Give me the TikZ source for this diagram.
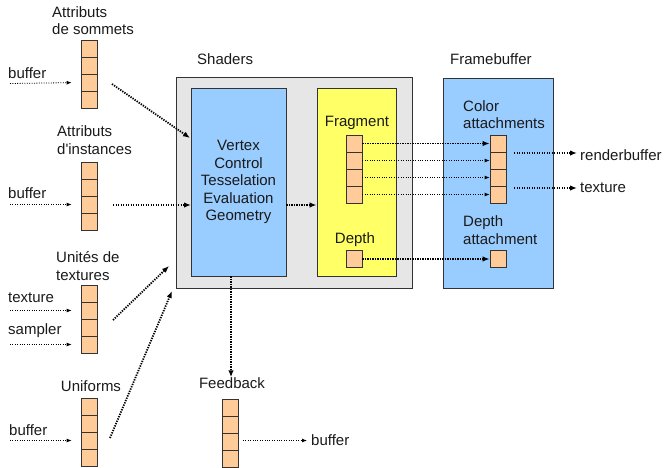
\documentclass[tikz,border=0pt]{standalone}
\usepackage{fontspec}
\setmainfont{Liberation Sans}
\newfontfamily\plainf{Liberation Sans}
\usetikzlibrary{arrows.meta,calc}
\definecolor{peach}{HTML}{FFCC99}
\definecolor{skyb}{HTML}{99CCFF}
\definecolor{yel}{HTML}{FFFF66}
\definecolor{lgray}{HTML}{E6E6E6}
\definecolor{bordc}{HTML}{333333}
\definecolor{textc}{HTML}{1A1A1A}
\tikzset{
  cell/.style={draw=bordc, fill=peach, minimum width=16pt, minimum height=17pt, inner sep=0pt, line width=0.8pt},
  lbl/.style={inner sep=0pt, text=textc, align=left},
  panel/.style={draw=bordc, line width=0.9pt, inner sep=0pt},
  bigarr/.style={line width=1.8pt, dash pattern=on 1.3pt off 1.2pt, -{Latex[length=7pt,width=5.5pt]}},
  thinarr/.style={line width=0.8pt, dash pattern=on 1pt off 1.4pt, -{Latex[length=5pt,width=4pt]}}
}
\begin{document}
\begin{tikzpicture}[x=1pt,y=-1pt, font=\fontsize{15}{17.5}\selectfont]
\useasboundingbox (0,0) rectangle (667,467);

% ---- panels
\node[panel, fill=lgray, minimum width=236pt, minimum height=211pt] (gray) at (294,182.5) {};
\node[panel, fill=skyb, minimum width=95pt, minimum height=188pt, align=center, text=textc] (blue) at (238.5,182) {Vertex\\Control\\Tesselation\\Evaluation\\Geometry};
\node[panel, fill=yel, minimum width=79pt, minimum height=188pt] (yellow) at (356.5,182) {};
\node[panel, fill=skyb, minimum width=110pt, minimum height=210pt] (fb) at (498,183) {};
\node[lbl, anchor=west] (shl) at (197,59) {Shaders};
\node[lbl, anchor=west] (fbl) at (450,59) {Framebuffer};
\node[lbl] (fragl) at (357,123) {Fragment};
\node[lbl] (depl) at (355,240) {Depth};
\node[lbl, anchor=west] (cal) at (463,114.5) {Color\\attachments};
\node[lbl, anchor=west] (dal) at (463,230) {Depth\\attachment};

% ---- stacks
\foreach \i in {1,...,4} {
  \node[cell] (sa\i) at (89,{31.5+17*\i}) {};
  \node[cell] (si\i) at (89,{153.5+17*\i}) {};
  \node[cell] (st\i) at (89,{276.5+17*\i}) {};
  \node[cell] (su\i) at (89,{389.5+17*\i}) {};
  \node[cell] (sf\i) at (230,{390.5+17*\i}) {};
  \node[cell] (fr\i) at (354,{126.5+17*\i}) {};
  \node[cell] (ca\i) at (498,{126.5+17*\i}) {};
}
\node[cell] (frd) at (354,259) {};
\node[cell] (cad) at (498,259) {};

% ---- left titles and labels
\node[lbl, anchor=west] (tsa) at (52,20.5) {Attributs\\de sommets};
\node[lbl, anchor=west] (tsi) at (57,140) {Attributs\\{\plainf d'instances}};
\node[lbl, anchor=west] (tst) at (56,266) {Unités de\\textures};
\node[lbl] (tsu) at (91,386) {Uniforms};
\node[lbl] (tsf) at (232,383) {Feedback};

\node[lbl, anchor=west] (lb1) at (8,73) {buffer};
\node[lbl, anchor=west] (lb2) at (8,193) {buffer};
\node[lbl, anchor=west] (lb3) at (8,298) {texture};
\node[lbl, anchor=west] (lb4) at (8,331) {sampler};
\node[lbl, anchor=west] (lb5) at (9,430) {buffer};
\node[lbl, anchor=west] (rb) at (580,155) {renderbuffer};
\node[lbl, anchor=west] (tx) at (580,188) {texture};
\node[lbl, anchor=west] (fbuf) at (311,440) {buffer};

% ---- free ends
\coordinate (i1) at (10,83.5);
\coordinate (i2) at (10,204.5);
\coordinate (i3) at (10,310.5);
\coordinate (i4) at (10,344.5);
\coordinate (i5) at (10,440.5);
\coordinate (a1s) at (112,84);
\coordinate (a1e) at (190,138);
\coordinate (a2s) at (113,205);
\coordinate (a2e) at (191,205);
\coordinate (a3s) at (113,320);
\coordinate (a3e) at (169,266);
\coordinate (a4s) at (110,438);
\coordinate (a4e) at (172,291);
\coordinate (fbx) at (231,0);
\coordinate (mid) at (0,205);
\coordinate (rbs) at (514,153);
\coordinate (txs) at (514,188);
\coordinate (fbs) at (243,440.5);

% ---- thin input arrows
\draw[thinarr, shorten >=9pt] (i1) -- (sa3.west);
\draw[thinarr, shorten >=9pt] (i2) -- (si3.west);
\draw[thinarr, shorten >=9pt] (i3) -- (st2.west);
\draw[thinarr, shorten >=9pt] (i4) -- (st4.west);
\draw[thinarr, shorten >=9pt] (i5) -- (su3.west);

% ---- thick arrows to shaders
\draw[bigarr] (a1s) -- (a1e);
\draw[bigarr] (a2s) -- (a2e);
\draw[bigarr] (a3s) -- (a3e);
\draw[bigarr] (a4s) -- (a4e);
\draw[bigarr] (blue.east |- mid) -- (yellow.west |- mid);
\draw[bigarr] (blue.south -| fbx) -- (tsf.north -| fbx);

% ---- fragment to framebuffer
\draw[bigarr] (fr1.east) -- (ca1.west);
\draw[thinarr] (fr2.east) -- (ca2.west);
\draw[thinarr] (fr3.east) -- (ca3.west);
\draw[thinarr] (fr4.east) -- (ca4.west);
\draw[bigarr] (frd.east) -- (cad.west);

% ---- outputs
\draw[bigarr, shorten >=3pt] (rbs) -- (rb.west |- rbs);
\draw[bigarr, shorten >=3pt] (txs) -- (tx.west |- txs);
\draw[thinarr, shorten >=4pt] (fbs) -- (fbuf.west |- fbs);
\end{tikzpicture}
\end{document}
